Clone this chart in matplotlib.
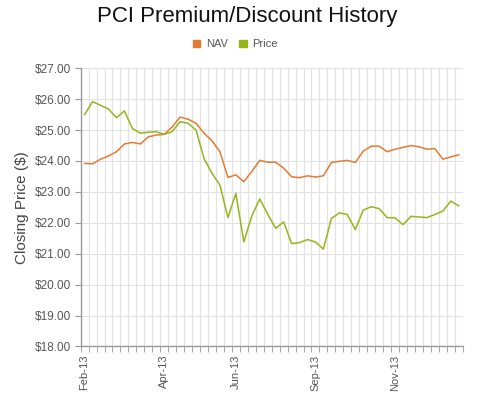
import matplotlib
matplotlib.use("Agg")
import matplotlib.pyplot as plt
import numpy as np

# weekly closing values
nav = [23.92, 23.91, 24.06, 24.16, 24.30, 24.55, 24.60, 24.55, 24.78, 24.84,
       24.86, 25.10, 25.42, 25.35, 25.22, 24.90, 24.65, 24.30, 23.47, 23.55,
       23.33, 23.66, 24.02, 23.96, 23.96, 23.77, 23.49, 23.46, 23.52, 23.48,
       23.52, 23.95, 23.99, 24.02, 23.95, 24.32, 24.48, 24.48, 24.30, 24.38,
       24.44, 24.50, 24.46, 24.38, 24.40, 24.06, 24.13, 24.20]
price = [25.50, 25.92, 25.80, 25.68, 25.40, 25.62, 25.05, 24.90, 24.93, 24.95,
         24.86, 24.95, 25.27, 25.22, 25.00, 24.08, 23.60, 23.22, 22.17, 22.95,
         21.38, 22.22, 22.77, 22.28, 21.82, 22.03, 21.33, 21.36, 21.46, 21.38,
         21.15, 22.14, 22.32, 22.27, 21.78, 22.41, 22.52, 22.46, 22.17, 22.16,
         21.94, 22.21, 22.19, 22.17, 22.27, 22.38, 22.70, 22.55]
label_pos = [0, 10, 19, 29, 39]
label_txt = ["Feb-13", "Apr-13", "Jun-13", "Sep-13", "Nov-13"]
yticks = [18, 19, 20, 21, 22, 23, 24, 25, 26, 27]

plt.rcParams['font.family'] = ['Liberation Sans', 'DejaVu Sans']

fig = plt.figure(figsize=(4.8, 3.99), dpi=100)
ax = fig.add_axes([0.168, 0.1316, 0.796, 0.6974])

x = np.arange(len(nav))
ax.plot(x, nav, color="#E57A32", lw=1.1, label="NAV")
ax.plot(x, price, color="#94B51C", lw=1.1, label="Price")

ax.set_xlim(-0.5, len(nav) - 0.5)
ax.set_ylim(18, 27)
ax.set_yticks(yticks)
ax.set_yticklabels(["${:.2f}".format(v) for v in yticks], fontsize=8.5, color="#555555")
ax.set_xticks(label_pos)
ax.set_xticklabels(label_txt, rotation=90, fontsize=8, color="#555555")
ax.set_xticks(np.arange(-0.5, len(nav)), minor=True)
ax.tick_params(axis="x", which="major", length=0, pad=6)
ax.tick_params(axis="x", which="minor", length=4, color="#999999", direction="out")
ax.tick_params(axis="y", length=4, color="#999999", pad=3)

ax.grid(axis="y", which="major", color="#e2e2e2", lw=0.8)
ax.grid(axis="x", which="minor", color="#e2e2e2", lw=0.8)
ax.set_axisbelow(True)
for s in ["top", "right"]:
    ax.spines[s].set_visible(False)
for s in ["left", "bottom"]:
    ax.spines[s].set_color("#999999")
    ax.spines[s].set_linewidth(1.0)

ax.set_ylabel("Closing Price ($)", fontsize=11, color="#444444", labelpad=4)

fig.suptitle("PCI Premium/Discount History", fontsize=16, x=0.515, y=0.985, color="#111111")
fig.legend(loc="center", bbox_to_anchor=(0.49, 0.889), ncol=2, frameon=False,
           fontsize=8, handlelength=0.7, handleheight=0.7, handletextpad=0.5,
           columnspacing=1.0, labelcolor="#555555",
           handles=[plt.Rectangle((0, 0), 1, 1, color="#E57A32"),
                    plt.Rectangle((0, 0), 1, 1, color="#94B51C")],
           labels=["NAV", "Price"])

fig.savefig("out.png", dpi=100)
